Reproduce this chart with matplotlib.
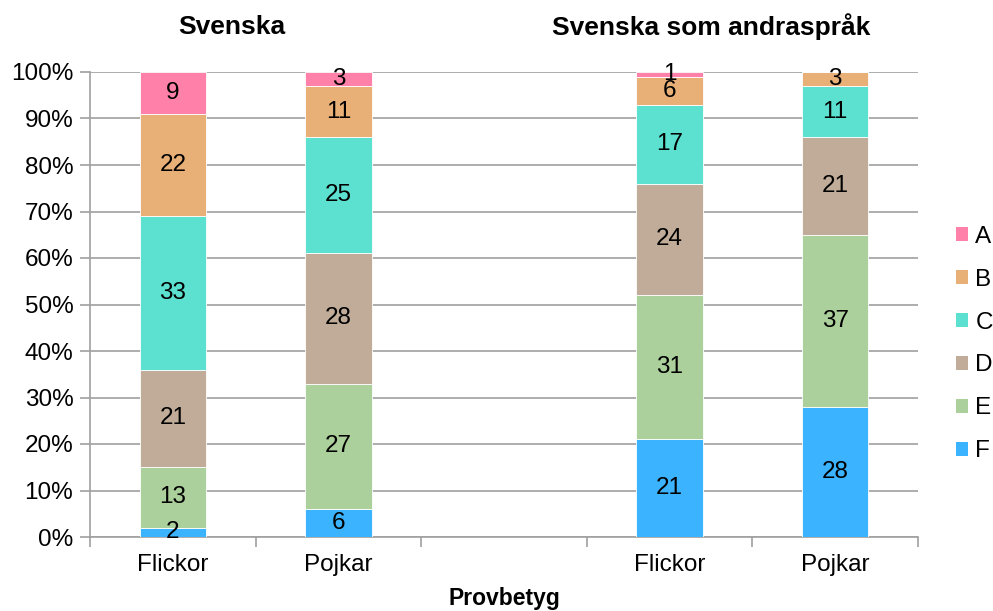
import matplotlib
matplotlib.use("Agg")
import matplotlib.pyplot as plt
from matplotlib.patches import Patch
import numpy as np

plt.rcParams['font.family'] = ['Liberation Sans', 'DejaVu Sans']

categories = ["Flickor", "Pojkar", "", "Flickor", "Pojkar"]
grades = ["F", "E", "D", "C", "B", "A"]
values = {
    "F": [2, 6, 0, 21, 28],
    "E": [13, 27, 0, 31, 37],
    "D": [21, 28, 0, 24, 21],
    "C": [33, 25, 0, 17, 11],
    "B": [22, 11, 0, 6, 3],
    "A": [9, 3, 0, 1, 0],
}
colors = {
    "A": "#FF80A8",
    "B": "#E8B077",
    "C": "#5CE0CF",
    "D": "#C0AC98",
    "E": "#ABD09B",
    "F": "#3BB3FF",
}
titles = ["Svenska", "Svenska som andraspråk"]
xlabel = "Provbetyg"

fs = 17.5
fig = plt.figure(figsize=(9.93, 6.11), dpi=100)
ax = fig.add_axes([90/993, 1-537/611, (918-90)/993, (537-72)/611])

x = np.arange(len(categories))
bottom = np.zeros(len(categories))
for g in grades:
    v = np.array(values[g], dtype=float)
    ax.bar(x, v, width=0.4, bottom=bottom, color=colors[g], edgecolor="white", linewidth=0.6, zorder=3)
    for xi, vi, bi in zip(x, v, bottom):
        if vi > 0:
            ax.text(xi, bi + vi/2, f"{int(vi)}", ha="center", va="center", fontsize=fs, color="black", zorder=4)
    bottom += v

ax.set_xlim(-0.5, 4.5)
ax.set_ylim(0, 100)
ax.set_yticks(np.arange(0, 101, 10))
ax.set_yticklabels([f"{t}%" for t in range(0, 101, 10)])
ax.yaxis.grid(True, color="#A0A0A0", linewidth=1.2, zorder=0)
ax.set_axisbelow(True)

ax.set_xticks(x)
ax.set_xticklabels(categories)
ax.set_xticks(np.arange(-0.5, 4.6, 1), minor=True)
ax.tick_params(axis="x", which="major", length=0, labelsize=fs, pad=12)
ax.tick_params(axis="x", which="minor", length=7, color="#A0A0A0", width=1.2)
ax.tick_params(axis="y", length=7, color="#A0A0A0", width=1.2, labelsize=fs, pad=5)

for s in ["top", "right"]:
    ax.spines[s].set_visible(False)
for s in ["left", "bottom"]:
    ax.spines[s].set_color("#A0A0A0")
    ax.spines[s].set_linewidth(1.2)

fig.text(232/993, 1-27/611, titles[0], ha="center", va="center", fontsize=19, fontweight="bold")
fig.text(711/993, 1-27/611, titles[1], ha="center", va="center", fontsize=19, fontweight="bold")
fig.text(504/993, 1-599/611, xlabel, ha="center", va="center", fontsize=16.5, fontweight="bold")

handles = [Patch(facecolor=colors[g], edgecolor="none", label=g) for g in ["A", "B", "C", "D", "E", "F"]]
leg = fig.legend(handles=handles, loc="center left", bbox_to_anchor=(956/993, 1-344/611),
                 frameon=False, fontsize=fs, handlelength=0.5, handleheight=0.5,
                 handletextpad=0.3, labelspacing=0.86, borderaxespad=0, borderpad=0)

fig.savefig("out.png", dpi=100)
